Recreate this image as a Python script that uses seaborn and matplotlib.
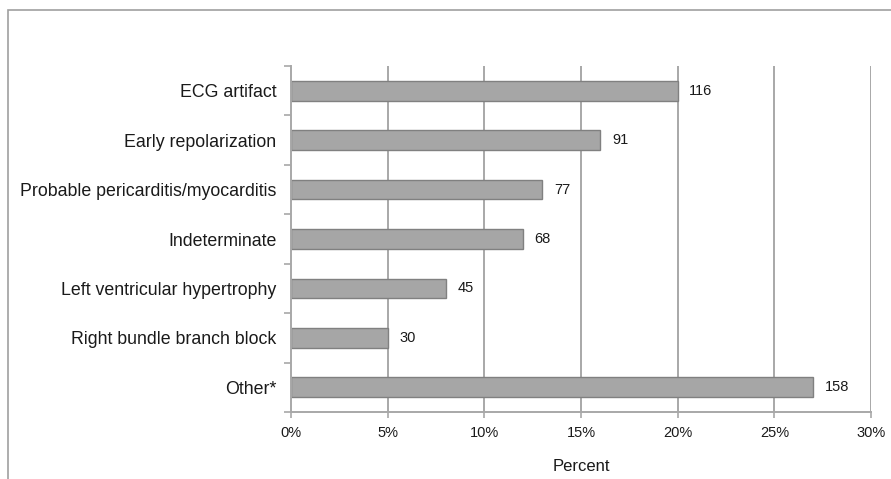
import numpy as np
import pandas as pd
import matplotlib
matplotlib.use("Agg")
import matplotlib.pyplot as plt
import seaborn as sns
from matplotlib.ticker import FixedLocator, PercentFormatter

# Data
categories = [
    "ECG artifact",
    "Early repolarization",
    "Probable pericarditis/myocarditis",
    "Indeterminate",
    "Left ventricular hypertrophy",
    "Right bundle branch block",
    "Other*",
]
percents = [20, 16, 13, 12, 8, 5, 27]
counts = [116, 91, 77, 68, 45, 30, 158]

df = pd.DataFrame({"category": categories, "percent": percents, "count": counts})

sns.set_style("white")
plt.rcParams["font.family"] = ["Liberation Sans", "DejaVu Sans"]

fig = plt.figure(figsize=(8.91, 4.79), dpi=100)
ax = fig.add_axes([291 / 891, 1 - 412 / 479, 580 / 891, 346 / 479])

# frame around the figure (top and left edges visible)
fig.patches.append(plt.Rectangle((8 / 891, -0.1), 1.1, 1.1 - 10 / 479,
                                 transform=fig.transFigure, fill=False,
                                 edgecolor="#a0a0a0", linewidth=1.2))

# grid lines behind the bars
for x in range(5, 31, 5):
    ax.axvline(x, color="#a8a8a8", linewidth=1.4, zorder=0)

sns.barplot(data=df, x="percent", y="category", orient="h", ax=ax,
            color="#a6a6a6", edgecolor="#808080", linewidth=1.0,
            width=0.4, saturation=1, zorder=2)

for i, (p, c) in enumerate(zip(percents, counts)):
    ax.text(p + 0.6, i, str(c), va="center", ha="left", fontsize=10.5, color="#1a1a1a")

ax.set_xlim(0, 30)
ax.set_ylim(len(categories) - 0.5, -0.5)
ax.set_xticks(range(0, 31, 5))
ax.xaxis.set_major_formatter(PercentFormatter(decimals=0))
ax.tick_params(axis="x", length=4, width=1.2, color="#a8a8a8", labelsize=10.5,
               labelcolor="#1a1a1a", pad=6, bottom=True)
ax.tick_params(axis="y", which="major", length=0, labelsize=12.8,
               labelcolor="#1a1a1a", pad=10.5)
ax.yaxis.set_minor_locator(FixedLocator(np.arange(-0.5, len(categories), 1.0)))
ax.tick_params(axis="y", which="minor", length=5, width=1.2, color="#a8a8a8", left=True)

for side in ["top", "right"]:
    ax.spines[side].set_visible(False)
for side in ["left", "bottom"]:
    ax.spines[side].set_color("#a8a8a8")
    ax.spines[side].set_linewidth(1.4)

ax.set_ylabel("")
ax.set_xlabel("Percent", fontsize=12, color="#1a1a1a", labelpad=14)

fig.savefig("out.png", dpi=100)
